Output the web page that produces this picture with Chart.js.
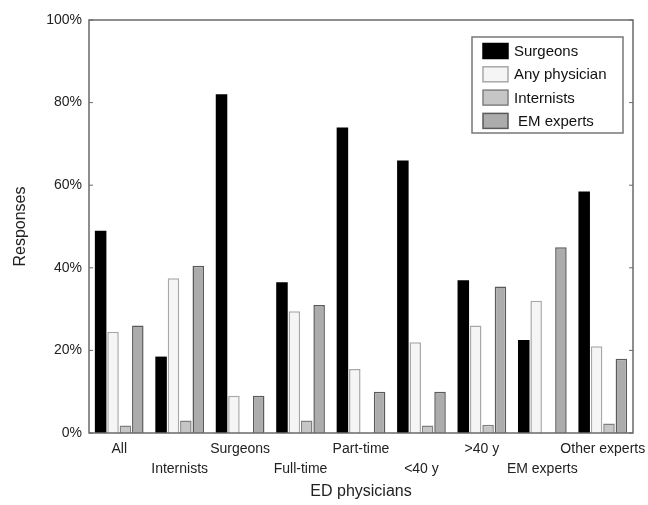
<!DOCTYPE html>
<html>
<head>
<meta charset="utf-8">
<script src="https://cdn.jsdelivr.net/npm/chart.js@4/dist/chart.umd.min.js"></script>
<style>
html,body{margin:0;padding:0;background:#fff;}
#wrap{width:648px;height:505px;position:relative;}
</style>
</head>
<body>
<div id="wrap"><canvas id="c" width="648" height="505"></canvas></div>
<script>
const categories = ['All','Internists','Surgeons','Full-time','Part-time','<40 y','>40 y','EM experts','Other experts'];
const surgeons     = [49, 18.5, 82, 36.5, 74, 66, 37, 22.5, 58.5];
const anyPhysician = [24.5, 37.5, 9, 29.5, 15.5, 22, 26, 32, 21];
const internists   = [1.8, 3, 0, 3, 0, 1.8, 2, 0, 2.3];
const emExperts    = [26, 40.5, 9, 31, 10, 10, 35.5, 45, 18];
const yTicks = [0, 20, 40, 60, 80, 100];

const FONT = 'Liberation Sans, Arial, Helvetica, sans-serif';
const AXIS = '#6a6a6a';

const frame = {
  id: 'frame',
  afterDatasetsDraw(chart) {
    const {ctx, chartArea: a, scales} = chart;
    ctx.save();
    ctx.strokeStyle = AXIS;
    ctx.lineWidth = 1.5;
    ctx.strokeRect(a.left, a.top, a.right - a.left, a.bottom - a.top);
    ctx.lineWidth = 1;
    yTicks.forEach(v => {
      const y = scales.y.getPixelForValue(v);
      ctx.beginPath();
      ctx.moveTo(a.left, y); ctx.lineTo(a.left + 4, y);
      ctx.moveTo(a.right, y); ctx.lineTo(a.right - 4, y);
      ctx.stroke();
    });
    const x0 = 472, y0 = 37, w = 151, h = 96;
    ctx.fillStyle = '#fff';
    ctx.fillRect(x0, y0, w, h);
    ctx.strokeStyle = '#777';
    ctx.lineWidth = 1.5;
    ctx.strokeRect(x0, y0, w, h);
    ctx.font = '15px ' + FONT;
    ctx.textBaseline = 'middle';
    chart.data.datasets.forEach((ds, i) => {
      const cy = 51 + i * 23.3;
      ctx.fillStyle = ds.backgroundColor;
      ctx.fillRect(483, cy - 7.5, 25, 15);
      ctx.strokeStyle = ds.borderColor;
      ctx.lineWidth = 1.5;
      ctx.strokeRect(483, cy - 7.5, 25, 15);
      ctx.fillStyle = '#111';
      ctx.fillText(ds.label, i === 3 ? 518 : 514, cy + 1);
    });
    ctx.restore();
  }
};

new Chart(document.getElementById('c'), {
  type: 'bar',
  data: {
    labels: categories,
    datasets: [
      {label: 'Surgeons', data: surgeons, backgroundColor: '#000000', borderColor: '#000000', borderWidth: 0},
      {label: 'Any physician', data: anyPhysician, backgroundColor: '#f5f5f5', borderColor: '#a8a8a8', borderWidth: 1.5},
      {label: 'Internists', data: internists, backgroundColor: '#c6c6c6', borderColor: '#808080', borderWidth: 1.5},
      {label: 'EM experts', data: emExperts, backgroundColor: '#acacac', borderColor: '#5a5a5a', borderWidth: 1.5}
    ]
  },
  options: {
    responsive: false,
    animation: false,
    layout: {padding: {top: 20, right: 15, left: 0, bottom: 0}},
    plugins: {legend: {display: false}, tooltip: {enabled: false}},
    datasets: {bar: {barPercentage: 0.93, categoryPercentage: 0.82}},
    scales: {
      x: {
        grid: {display: false, drawTicks: false},
        border: {display: false},
        ticks: {
          autoSkip: false, maxRotation: 0, minRotation: 0, padding: 6,
          color: '#222', font: {family: FONT, size: 14, lineHeight: 1.43},
          callback: (v, i) => i % 2 === 0 ? [categories[i]] : ['', categories[i]]
        },
        title: {display: true, text: 'ED physicians', color: '#222', font: {family: FONT, size: 16}, padding: {top: 4, bottom: 4}},
        afterFit: s => { s.height = 72; s.paddingLeft = 0; s.paddingRight = 0; }
      },
      y: {
        min: 0, max: 100,
        afterBuildTicks: s => { s.ticks = yTicks.map(v => ({value: v})); },
        grid: {display: false, drawTicks: false},
        border: {display: false},
        ticks: {padding: 7, color: '#222', font: {family: FONT, size: 14}, callback: v => v + '%'},
        title: {display: true, text: 'Responses', color: '#222', font: {family: FONT, size: 16}, padding: {top: 11, bottom: 4}},
        afterFit: s => { s.width = 89; s.paddingTop = 0; s.paddingBottom = 0; }
      }
    }
  },
  plugins: [frame]
});
</script>
</body>
</html>
